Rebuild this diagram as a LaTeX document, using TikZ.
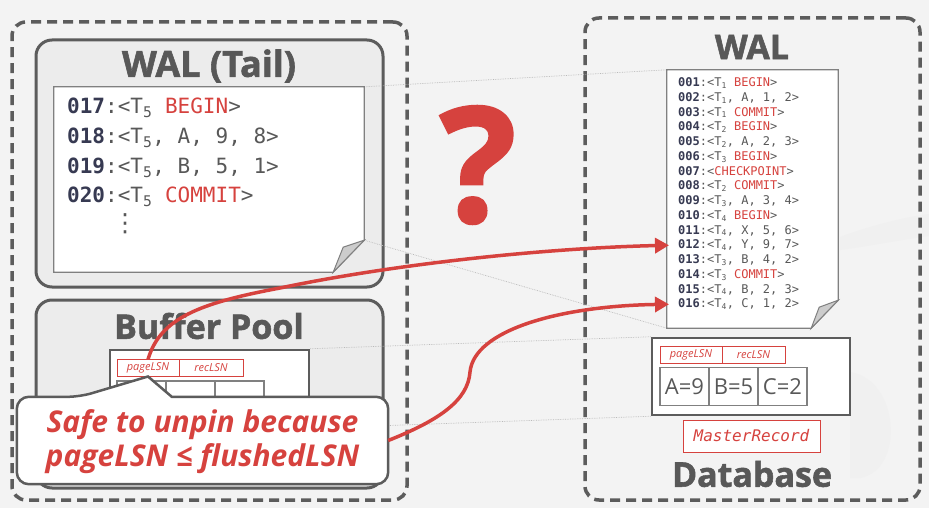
\documentclass[tikz,border=0pt]{standalone}
\usepackage{fontspec}
\setmainfont{Open Sans}
\setmonofont{DejaVu Sans Mono}
\newfontfamily\heavyfont{Open Sans}[UprightFont=* Bold, FakeBold=1.6]
\newfontfamily\dotsfont{DejaVu Sans}
\usepackage{tikz}
\usetikzlibrary{calc, arrows.meta, positioning}
\definecolor{slidered}{RGB}{214,66,62}
\definecolor{boxgray}{RGB}{92,92,92}
\definecolor{lsnblue}{RGB}{55,58,82}
\definecolor{textgray}{RGB}{88,88,88}
\definecolor{bggray}{RGB}{243,243,243}
\newcommand{\lsnno}[1]{{\color{lsnblue}\bfseries#1}}
\newcommand{\tx}[1]{T\textsubscript{#1}}
\newcommand{\kw}[1]{{\color{slidered}#1}}

\begin{document}
\begin{tikzpicture}[x=1pt, y=-1pt]
      % Styles
      \tikzset{outer_box/.style={draw=boxgray, line width=3.5pt, dash pattern=on 10pt off 6pt, rounded corners=14pt}}
      \tikzset{panel/.style={draw=boxgray, line width=3pt, fill=gray!15, rounded corners=16pt}}
      \tikzset{title/.style={text=textgray, font=\heavyfont\fontsize{34}{34}\selectfont}}
      \tikzset{tail_rec/.style={anchor=west, inner sep=0pt, text=textgray, font=\ttfamily\fontsize{21}{21}\selectfont}}
      \tikzset{wal_rec/.style={anchor=west, inner sep=0pt, text=textgray, font=\ttfamily\fontsize{12}{12}\selectfont}}
      \tikzset{paper/.style={draw=gray, line width=1.2pt, fill=white}}
      \tikzset{fold/.style={draw=gray, line width=1pt, fill=gray!40}}
      \tikzset{zoom_line/.style={draw=gray!55, line width=0.7pt, densely dotted}}
      \tikzset{page_box/.style={draw=boxgray, line width=2.5pt, fill=white}}
      \tikzset{lsn_cell/.style={draw=slidered, line width=1pt, outer sep=0pt, inner sep=1pt, minimum height=17pt, text=slidered, font=\itshape\fontsize{11}{11}\selectfont}}
      \tikzset{data_cell/.style={draw=gray, line width=1.5pt, outer sep=0pt, inner sep=0pt, minimum width=49pt, minimum height=38pt, text=textgray, font=\fontsize{22}{22}\selectfont}}
      \tikzset{flush_arrow/.style={draw=slidered, line width=3.5pt, -{Triangle[length=14pt, width=15pt]}}}

      % --- background and watermark ---
      \fill[bggray] (0,0) rectangle (929,508);
      \useasboundingbox (0,0) rectangle (929,508);
      \fill[gray!12] (840,237) .. controls (870,226) and (900,218) .. (929,214) -- (929,236) .. controls (900,240) and (870,246) .. (840,250) -- cycle;
      \fill[gray!12] (850,372) .. controls (900,380) and (905,470) .. (860,478) -- (850,478) -- cycle;

      % --- the two sides ---
      \node[outer_box, minimum width=395pt, minimum height=478pt] (memory) at (209.5,261) {};
      \node[outer_box, minimum width=335pt, minimum height=482pt] (disk) at (752.5,259) {};

      \node[panel, minimum width=347pt, minimum height=247pt] (tailbox) at (209.5,163.5) {};
      \node[panel, minimum width=347pt, minimum height=188pt] (bufbox) at (209.5,394) {};
      \node[title, font=\heavyfont\fontsize{36}{36}\selectfont] (tailtitle) at (209,66) {WAL (Tail)};
      \node[title] (buftitle) at (209,326) {Buffer Pool};
      \node[title] (waltitle) at (752,47) {WAL};
      \node[title] (dbtitle) at (752,474) {Database};

      % --- papers and pages (anchors only) ---
      \node[minimum width=310pt, minimum height=185pt] (tailpaper) at (209,179.5) {};
      \node[minimum width=171pt, minimum height=258pt] (walpaper) at (752.5,199) {};
      \node[page_box, minimum width=199pt, minimum height=77pt] (bufpage) at (209.5,388.5) {};
      \node[page_box, minimum width=198pt, minimum height=77pt] (dbpage) at (751,376.5) {};

      % zoom lines
      \draw[zoom_line] (tailpaper.north east) -- (walpaper.north west);
      \draw[zoom_line] ([yshift=32pt]tailpaper.south east) -- (walpaper.south west);
      \draw[zoom_line] (bufpage.north east) -- (dbpage.north west);
      \draw[zoom_line] (bufpage.south east) -- (dbpage.south west);

      \draw[paper] (tailpaper.north west) -- (tailpaper.north east) -- ([yshift=32pt]tailpaper.south east)
        -- ([xshift=-31pt]tailpaper.south east) -- (tailpaper.south west) -- cycle;
      \draw[fold] ([yshift=32pt]tailpaper.south east) -- ([xshift=-21pt,yshift=25pt]tailpaper.south east) -- ([xshift=-31pt]tailpaper.south east) -- cycle;
      \draw[paper] (walpaper.north west) -- (walpaper.north east) -- ([yshift=28pt]walpaper.south east)
        -- ([xshift=-27pt]walpaper.south east) -- (walpaper.south west) -- cycle;
      \draw[fold] ([yshift=28pt]walpaper.south east) -- ([xshift=-19pt,yshift=21pt]walpaper.south east) -- ([xshift=-27pt]walpaper.south east) -- cycle;

      % --- WAL tail records ---
      \node[tail_rec] (t17) at (67,108) {\lsnno{017}:<\tx{5} \kw{BEGIN}>};
      \node[tail_rec] (t18) at (67,138) {\lsnno{018}:<\tx{5}, A, 9, 8>};
      \node[tail_rec] (t19) at (67,168) {\lsnno{019}:<\tx{5}, B, 5, 1>};
      \node[tail_rec] (t20) at (67,197) {\lsnno{020}:<\tx{5} \kw{COMMIT}>};
      \node[text=textgray, inner sep=0pt, font=\dotsfont\fontsize{25}{25}\selectfont] (tdots) at (125,224) {⋮};

      % --- WAL records on disk ---
      \foreach \lbl/\rec [count=\i] in {001/{\tx{1} \kw{BEGIN}}, 002/{\tx{1}, A, 1, 2}, 003/{\tx{1} \kw{COMMIT}},
          004/{\tx{2} \kw{BEGIN}}, 005/{\tx{2}, A, 2, 3}, 006/{\tx{3} \kw{BEGIN}}, 007/{\kw{CHECKPOINT}},
          008/{\tx{2} \kw{COMMIT}}, 009/{\tx{3}, A, 3, 4}, 010/{\tx{4} \kw{BEGIN}}, 011/{\tx{4}, X, 5, 6},
          012/{\tx{4}, Y, 9, 7}, 013/{\tx{3}, B, 4, 2}, 014/{\tx{3} \kw{COMMIT}}, 015/{\tx{4}, B, 2, 3},
          016/{\tx{4}, C, 1, 2}}
        \node[wal_rec] (w\i) at (678,{83+14.75*(\i-1)}) {\lsnno{\lbl}:<\rec>};

      % --- buffer pool page ---
      \node[lsn_cell, minimum width=62pt] (bufplsn) at (148,368) {pageLSN};
      \node[lsn_cell, minimum width=64pt, right=0pt of bufplsn] (bufrlsn) {recLSN};
      \node[data_cell] (bufa) at (141.5,400) {};
      \node[data_cell, right=0pt of bufa] (bufb) {};
      \node[data_cell, right=0pt of bufb] (bufc) {};

      % --- database page ---
      \node[lsn_cell, minimum width=62pt] (dbplsn) at (691,355) {pageLSN};
      \node[lsn_cell, minimum width=63pt, right=0pt of dbplsn] (dbrlsn) {recLSN};
      \node[data_cell] (dba) at (684.5,386.5) {A=9};
      \node[data_cell, right=0pt of dba] (dbb) {B=5};
      \node[data_cell, right=0pt of dbb] (dbc) {C=2};
      \node[draw=slidered, fill=white, line width=1pt, minimum width=137pt, minimum height=32pt, text=slidered,
        font=\ttfamily\itshape\fontsize{16}{16}\selectfont] (master) at (751.5,436) {MasterRecord};

      \node[text=slidered, font=\heavyfont\fontsize{160}{160}\selectfont] (qmark) at (478,165) {?};

      % --- flush arrows ---
      \draw[flush_arrow] (bufplsn.north) .. controls (160,318) and (200,303) .. (280,288)
        .. controls (400,263) and (550,248) .. ([xshift=-9pt]w12.west);

      % --- callout ---
      \node[minimum width=371pt, minimum height=87pt] (callout) at (202.5,440.5) {};
      \draw[draw=boxgray, line width=2.5pt, fill=white] (callout.west) [rounded corners=12pt] -- (callout.north west)
        -- ([xshift=63pt]callout.north west) [sharp corners] -- (bufplsn.south) -- ([xshift=155pt]callout.north west)
        [rounded corners=12pt] -- (callout.north east) -- (callout.south east) -- (callout.south west) -- cycle;
      \node[text=slidered, align=center, font=\bfseries\itshape\fontsize{30}{34}\selectfont] (callouttext) at ([yshift=-1pt]callout)
        {Safe to unpin because\\pageLSN ≤ flushedLSN};
      \draw[flush_arrow] (callout.east) .. controls (440,420) and (468,400) .. (470,372)
        .. controls (474,330) and (560,306) .. ([xshift=-9pt]w16.west);

    \end{tikzpicture}
\end{document}
